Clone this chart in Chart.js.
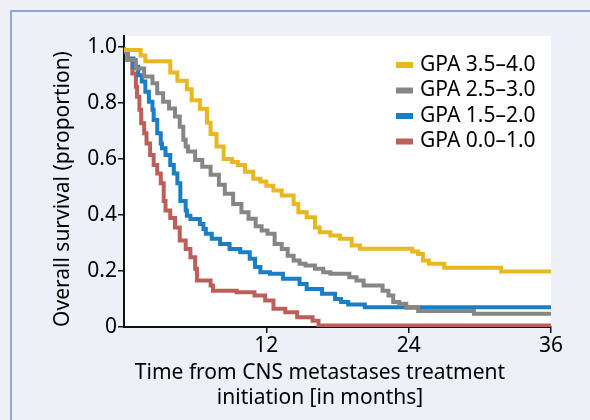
<!DOCTYPE html>
<html>
<head>
<meta charset="utf-8">
<title>Overall survival by GPA</title>
<script src="https://cdn.jsdelivr.net/npm/chart.js@4.4.1/dist/chart.umd.min.js"></script>
<style>
  html, body { margin: 0; padding: 0; background: #eff0f6; }
  #wrap { position: relative; width: 590px; height: 420px; overflow: hidden; background: #eff0f6; }
  #frame {
    position: absolute; left: 10px; top: 10px; width: 600px; height: 430px;
    border-left: 2px solid #8eaad4; border-top: 2px solid #8eaad4; background: #eef0f7;
  }
  #chart { position: absolute; left: 0; top: 0; }
</style>
</head>
<body>
<div id="wrap">
  <div id="frame"></div>
  <canvas id="chart" width="590" height="420"></canvas>
</div>
<script>
// Kaplan-Meier curves (time in months, survival proportion)
const gpa35Time = [0, 1.4, 1.8, 2.2, 3.9, 4.5, 5.3, 5.7, 6.4, 7.0, 7.3, 7.8, 8.4, 9.1, 9.6, 10.2, 10.9, 11.5, 12.0, 12.6, 13.3, 14.3, 14.7, 15.4, 16.1, 16.5, 17.4, 18.2, 19.2, 19.9, 24.3, 24.8, 25.2, 25.7, 27.0, 31.8, 34.3, 36];
const gpa35Surv = [0.998, 0.99, 0.97, 0.95, 0.95, 0.91, 0.88, 0.85, 0.81, 0.78, 0.73, 0.69, 0.645, 0.60, 0.59, 0.579, 0.555, 0.53, 0.52, 0.505, 0.488, 0.47, 0.44, 0.41, 0.392, 0.356, 0.339, 0.327, 0.315, 0.291, 0.28, 0.27, 0.261, 0.238, 0.226, 0.212, 0.198, 0.198];

const gpa25Time = [0, 0.3, 1.0, 1.7, 2.4, 2.8, 3.3, 3.8, 4.3, 4.7, 5.0, 5.2, 5.4, 6.0, 6.6, 7.3, 8.0, 8.5, 9.2, 9.9, 10.5, 11.1, 11.6, 12.1, 12.7, 13.3, 13.8, 14.3, 14.8, 15.3, 16.1, 16.8, 17.4, 19.0, 19.6, 20.2, 21.8, 22.3, 22.7, 23.2, 23.8, 24.8, 29.5, 33.4, 36];
const gpa25Surv = [1.0, 0.984, 0.954, 0.924, 0.895, 0.871, 0.835, 0.805, 0.781, 0.752, 0.716, 0.669, 0.645, 0.627, 0.597, 0.573, 0.544, 0.508, 0.476, 0.44, 0.41, 0.387, 0.36, 0.345, 0.333, 0.297, 0.279, 0.255, 0.238, 0.226, 0.22, 0.208, 0.196, 0.19, 0.178, 0.166, 0.148, 0.13, 0.113, 0.089, 0.083, 0.069, 0.057, 0.047, 0.047];

const gpa15Time = [0, 0.3, 0.8, 1.2, 1.5, 1.8, 2.1, 2.4, 2.5, 2.8, 3.1, 3.2, 3.5, 3.9, 4.2, 4.5, 4.75, 5.2, 5.3, 5.6, 6.4, 6.7, 6.9, 7.4, 8.1, 8.9, 9.8, 10.6, 11.05, 11.5, 12.3, 13.4, 14.8, 15.4, 16.7, 17.8, 18.3, 18.9, 20.3, 23.2, 36];
const gpa15Surv = [1.0, 0.984, 0.96, 0.93, 0.90, 0.877, 0.841, 0.805, 0.776, 0.74, 0.692, 0.656, 0.639, 0.615, 0.579, 0.549, 0.514, 0.45, 0.416, 0.398, 0.386, 0.368, 0.35, 0.333, 0.315, 0.297, 0.279, 0.267, 0.244, 0.214, 0.196, 0.19, 0.172, 0.154, 0.136, 0.119, 0.10, 0.089, 0.08, 0.071, 0.071];

const gpa00Time = [0, 0.3, 0.7, 1.0, 1.1, 1.3, 1.45, 1.7, 1.9, 2.2, 2.5, 2.8, 3.1, 3.35, 3.5, 3.9, 4.3, 4.7, 5.2, 5.6, 6.0, 6.15, 7.3, 7.5, 9.5, 11.0, 11.9, 12.6, 13.6, 14.6, 15.9, 16.4, 28.6, 36];
const gpa00Surv = [1.0, 0.984, 0.954, 0.906, 0.859, 0.823, 0.776, 0.728, 0.692, 0.656, 0.615, 0.579, 0.549, 0.514, 0.45, 0.416, 0.39, 0.356, 0.309, 0.279, 0.249, 0.208, 0.166, 0.148, 0.13, 0.124, 0.113, 0.095, 0.065, 0.053, 0.035, 0.022, 0.005, 0.005];

const seriesLabels = ['GPA 3.5\u20134.0', 'GPA 2.5\u20133.0', 'GPA 1.5\u20132.0', 'GPA 0.0\u20131.0'];
const seriesColors = ['#e9b820', '#868686', '#1b7dc3', '#bd5f59'];

const xTicks = [0, 12, 24, 36];
const yTicks = [0, 0.2, 0.4, 0.6, 0.8, 1.0];
const yTickLabels = ['0', '0.2', '0.4', '0.6', '0.8', '1.0'];

const xTitle = ['Time from CNS metastases treatment', 'initiation [in months]'];
const yTitle = 'Overall survival (proportion)';

const FONT = '"Noto Sans", "Open Sans", sans-serif';
const FONT_SIZE = 21;

const toPoints = (times, surv) => times.map((t, i) => ({ x: t, y: surv[i] }));

const series = [
  toPoints(gpa35Time, gpa35Surv),
  toPoints(gpa25Time, gpa25Surv),
  toPoints(gpa15Time, gpa15Surv),
  toPoints(gpa00Time, gpa00Surv),
];

// white plot area behind the curves
const plotBackground = {
  id: 'plotBackground',
  beforeDraw(chart) {
    const { ctx, chartArea } = chart;
    ctx.save();
    ctx.fillStyle = '#ffffff';
    ctx.fillRect(chartArea.left, chartArea.top, chartArea.right - chartArea.left, chartArea.bottom - chartArea.top);
    ctx.restore();
  },
};

// axis titles and the legend inside the plot
const annotations = {
  id: 'annotations',
  afterDraw(chart) {
    const ctx = chart.ctx;
    ctx.save();
    ctx.fillStyle = '#000';
    ctx.font = FONT_SIZE + 'px ' + FONT;
    ctx.textAlign = 'center';
    ctx.textBaseline = 'middle';
    ctx.fillText(xTitle[0], 320, 373);
    ctx.fillText(xTitle[1], 320, 398);

    ctx.translate(63, 189);
    ctx.rotate(-Math.PI / 2);
    ctx.fillText(yTitle, 0, 0);
    ctx.restore();

    ctx.save();
    ctx.font = FONT_SIZE + 'px ' + FONT;
    ctx.textAlign = 'left';
    ctx.textBaseline = 'middle';
    chart.data.datasets.forEach((ds, i) => {
      const y = 65 + i * 25.5;
      ctx.fillStyle = ds.borderColor;
      ctx.fillRect(396, y - 3, 17, 6);
      ctx.fillStyle = '#000';
      ctx.fillText(ds.label, 420, y);
    });
    ctx.restore();
  },
};

new Chart(document.getElementById('chart'), {
  type: 'line',
  data: {
    datasets: series.map((pts, i) => ({
      label: seriesLabels[i],
      data: pts,
      borderColor: seriesColors[i],
      backgroundColor: seriesColors[i],
      borderWidth: 4,
      stepped: 'after',
      pointRadius: 0,
      fill: false,
    })),
  },
  options: {
    responsive: false,
    animation: false,
    devicePixelRatio: 1,
    layout: { padding: { top: 36, right: 39, left: 0, bottom: 0 } },
    plugins: {
      legend: { display: false },
      tooltip: { enabled: false },
    },
    scales: {
      x: {
        type: 'linear',
        min: 0,
        max: 36,
        afterBuildTicks: (scale) => { scale.ticks = xTicks.map(v => ({ value: v })); },
        afterFit: (scale) => { scale.height = 93; },
        border: { display: true, color: '#111', width: 2 },
        grid: {
          drawOnChartArea: false,
          drawTicks: true,
          tickLength: 6,
          lineWidth: 1.5,
          color: (ctx) => (ctx.tick && ctx.tick.value === 0 ? 'rgba(0,0,0,0)' : '#111'),
        },
        ticks: {
          color: '#000',
          font: { family: FONT, size: FONT_SIZE },
          padding: 0,
          maxRotation: 0,
          callback: (v) => (v === 0 ? '' : String(v)),
        },
      },
      y: {
        type: 'linear',
        min: 0,
        max: 1.04,
        afterBuildTicks: (scale) => { scale.ticks = yTicks.map(v => ({ value: v })); },
        afterFit: (scale) => { scale.width = 124; },
        border: { display: true, color: '#111', width: 2 },
        grid: {
          drawOnChartArea: false,
          drawTicks: true,
          tickLength: 6,
          lineWidth: 1.5,
          color: '#111',
        },
        ticks: {
          color: '#000',
          font: { family: FONT, size: FONT_SIZE },
          padding: 1,
          callback: (v) => yTickLabels[yTicks.indexOf(v)],
        },
      },
    },
  },
  plugins: [plotBackground, annotations],
});
</script>
</body>
</html>
